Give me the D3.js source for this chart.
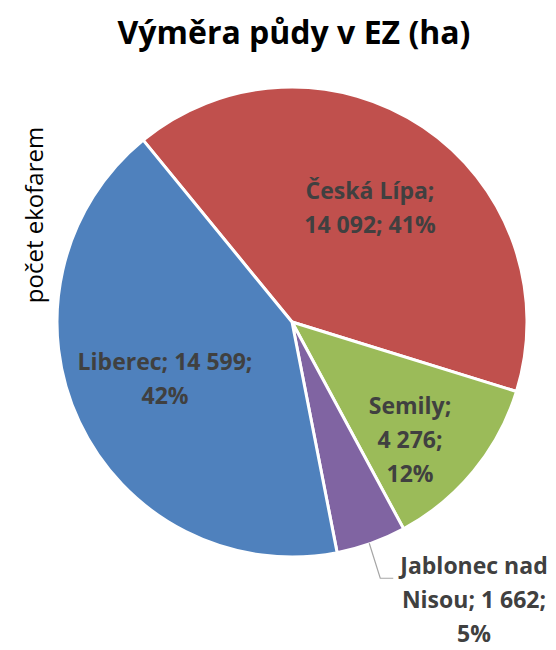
<!DOCTYPE html>
<html>
<head>
<meta charset="utf-8">
<script src="https://cdn.jsdelivr.net/npm/d3@7"></script>
<style>
  body { margin: 0; background: #fff; }
  text { font-family: "Open Sans", "Liberation Sans", sans-serif; }
</style>
</head>
<body>
<svg id="chart"></svg>
<script>
// data
var districts = ["Česká Lípa", "Semily", "Jablonec nad Nisou", "Liberec"];
var areas = [14092, 4276, 1662, 14599];
var percents = ["41%", "12%", "5%", "42%"];
var colors = ["#C0504D", "#9BBB59", "#8064A2", "#4F81BD"];

// label line breaks as in the original
var labelLines = [
    ["Česká Lípa;", "14 092; 41%"],
    ["Semily;", "4 276;", "12%"],
    ["Jablonec nad", "Nisou; 1 662;", "5%"],
    ["Liberec; 14 599;", "42%"]
];

var width = 556, height = 650;
var cx = 292, cy = 322, radius = 235;
var startDeg = -39.3;

var svg = d3.select("#chart")
    .attr("width", width)
    .attr("height", height);

// title
svg.append("text")
    .attr("x", 294)
    .attr("y", 44)
    .attr("text-anchor", "middle")
    .style("font-size", "32px")
    .style("font-weight", "bold")
    .style("fill", "#000")
    .text("Výměra půdy v EZ (ha)");

// axis title (left over from the source chart)
svg.append("text")
    .attr("transform", "translate(43,215) rotate(-90)")
    .attr("text-anchor", "middle")
    .style("font-size", "24px")
    .style("fill", "#000")
    .text("počet ekofarem");

var data = districts.map(function(d, i){
    return {name: d, value: areas[i], pct: percents[i], color: colors[i], lines: labelLines[i]};
});

var pie = d3.pie()
    .sort(null)
    .value(function(d){ return d.value; })
    .startAngle(startDeg * Math.PI / 180)
    .endAngle((startDeg + 360) * Math.PI / 180);

var arc = d3.arc()
    .innerRadius(0)
    .outerRadius(radius);

var g = svg.append("g")
    .attr("transform", "translate(" + cx + "," + cy + ")");

var arcs = pie(data);

g.selectAll("path")
    .data(arcs)
    .enter()
    .append("path")
    .attr("d", arc)
    .style("fill", function(d){ return d.data.color; })
    .style("stroke", "#fff")
    .style("stroke-width", 3)
    .style("stroke-linejoin", "round");

function midPoint(d, k){
    var a = (d.startAngle + d.endAngle) / 2;
    return [Math.sin(a) * radius * k, -Math.cos(a) * radius * k];
}

// label centres, relative to the pie centre
var lineH = 34;
var labelCenters = [[78, -114], [118, 118], [182, 278], [-127, 57]];

arcs.forEach(function(d, i){
    var c = labelCenters[i];
    var n = d.data.lines.length;
    var t = g.append("text")
        .attr("text-anchor", "middle")
        .style("font-size", "23px")
        .style("font-weight", "bold")
        .style("fill", "#404040");
    d.data.lines.forEach(function(line, j){
        t.append("tspan")
            .attr("x", c[0])
            .attr("y", c[1] + (j - (n - 1) / 2) * lineH + 8)
            .text(line);
    });
});

// leader line for the small slice
var jab = arcs[2];
var edge = midPoint(jab, 1.0);
g.append("path")
    .attr("d", d3.line()([
        [edge[0] - 2, edge[1] + 0],
        [edge[0] + 9, edge[1] + 35],
        [edge[0] + 22, edge[1] + 35]
    ]))
    .style("fill", "none")
    .style("stroke", "#A6A6A6")
    .style("stroke-width", 1.2);
</script>
</body>
</html>
